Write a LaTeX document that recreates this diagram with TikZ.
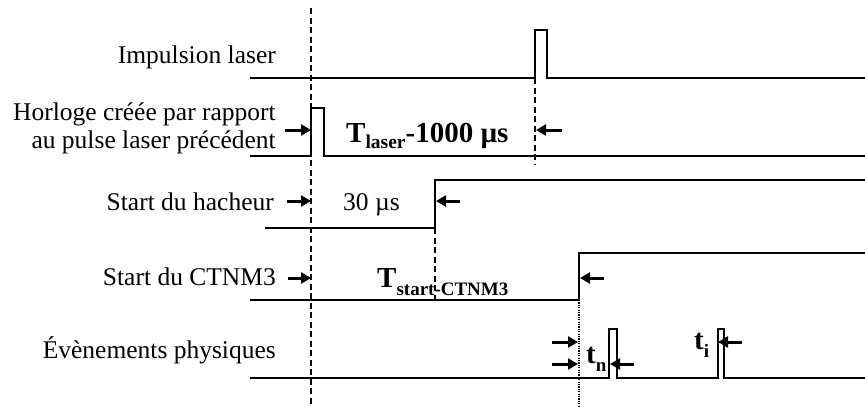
\documentclass[tikz,border=0pt]{standalone}
\usepackage{fontspec}
\setmainfont{Liberation Serif}
\usetikzlibrary{arrows.meta}
\begin{document}
\begin{tikzpicture}[x=1pt,y=-1pt,
  sig/.style={line width=2.4pt, line join=miter},
  vdash/.style={line width=2.6pt, dash pattern=on 6pt off 3.5pt},
  vdot/.style={line width=2.4pt, dash pattern=on 1.2pt off 1.2pt},
  arr/.style={line width=3pt, -{Triangle[length=10pt,width=11pt]}},
  lbl/.style={inner sep=0pt, anchor=base east, font=\fontsize{25.5}{28}\selectfont},
  big/.style={inner sep=0pt, anchor=base west, font=\fontsize{29}{31}\selectfont\bfseries},
]
\useasboundingbox (0,0) rectangle (865,407);

% labels
\node[lbl] (lLaser) at (276,63) {Impulsion laser};
\node[lbl] (lHor1) at (276,120) {Horloge créée par rapport};
\node[lbl] (lHor2) at (276,148) {au pulse laser précédent};
\node[lbl] (lHach) at (274,210) {Start du hacheur};
\node[lbl] (lCt) at (276,285) {Start du CTNM3};
\node[lbl] (lEv) at (276,358) {Évènements physiques};

% signals
\draw[sig] (250,78) -- (535,78) -- (535,30) -- (547,30) -- (547,78) -- (865,78);
\draw[sig] (250,156) -- (311,156) -- (311,108) -- (324,108) -- (324,156) -- (865,156);
\draw[sig] (265,228) -- (435,228) -- (435,180) -- (865,180);
\draw[sig] (250,300) -- (579,300) -- (579,253) -- (865,253);
\draw[sig] (250,378) -- (609,378) -- (609,329) -- (617,329) -- (617,378)
  -- (718,378) -- (718,329) -- (724,329) -- (724,378) -- (865,378);

% reference lines
\coordinate (d0t) at (311,8);   \coordinate (d0b) at (311,407);
\coordinate (d1t) at (535,78);  \coordinate (d1b) at (535,165);
\coordinate (d2t) at (435,228); \coordinate (d2b) at (435,300);
\coordinate (d3t) at (579,300); \coordinate (d3b) at (579,407);
\draw[vdash] (d0t) -- (d0b);
\draw[vdash] (d1t) -- (d1b);
\draw[vdash] (d2t) -- (d2b);
\draw[vdot] (d3t) -- (d3b);

% arrows
\coordinate (a1s) at (285,130); \coordinate (a1e) at (311,130);
\coordinate (a2s) at (562,130); \coordinate (a2e) at (536,130);
\coordinate (a3s) at (287,201); \coordinate (a3e) at (311,201);
\coordinate (a4s) at (460,201); \coordinate (a4e) at (436,201);
\coordinate (a5s) at (288,278); \coordinate (a5e) at (311,278);
\coordinate (a6s) at (604,278); \coordinate (a6e) at (580,278);
\coordinate (a7s) at (552,342); \coordinate (a7e) at (578,342);
\coordinate (a8s) at (552,364); \coordinate (a8e) at (578,364);
\coordinate (a9s) at (634,364); \coordinate (a9e) at (610,364);
\coordinate (a10s) at (742,342); \coordinate (a10e) at (718,342);
\foreach \i in {1,...,10} \draw[arr] (a\i s) -- (a\i e);

% interval labels
\node[big] (tl) at (346,142) {T\raisebox{-6pt}{\fontsize{19.5}{20}\selectfont laser}-1000 µs};
\node[inner sep=0pt, anchor=base west, font=\fontsize{25.5}{28}\selectfont] (t30) at (343,210) {30 µs};
\node[big] (tc) at (377,287) {T\raisebox{-8pt}{\fontsize{19}{20}\selectfont start-CTNM3}};
\node[big] (tn) at (586,363) {t\raisebox{-8pt}{\fontsize{19}{20}\selectfont n}};
\node[big] (ti) at (694,349) {t\raisebox{-8pt}{\fontsize{19}{20}\selectfont i}};
\end{tikzpicture}
\end{document}
